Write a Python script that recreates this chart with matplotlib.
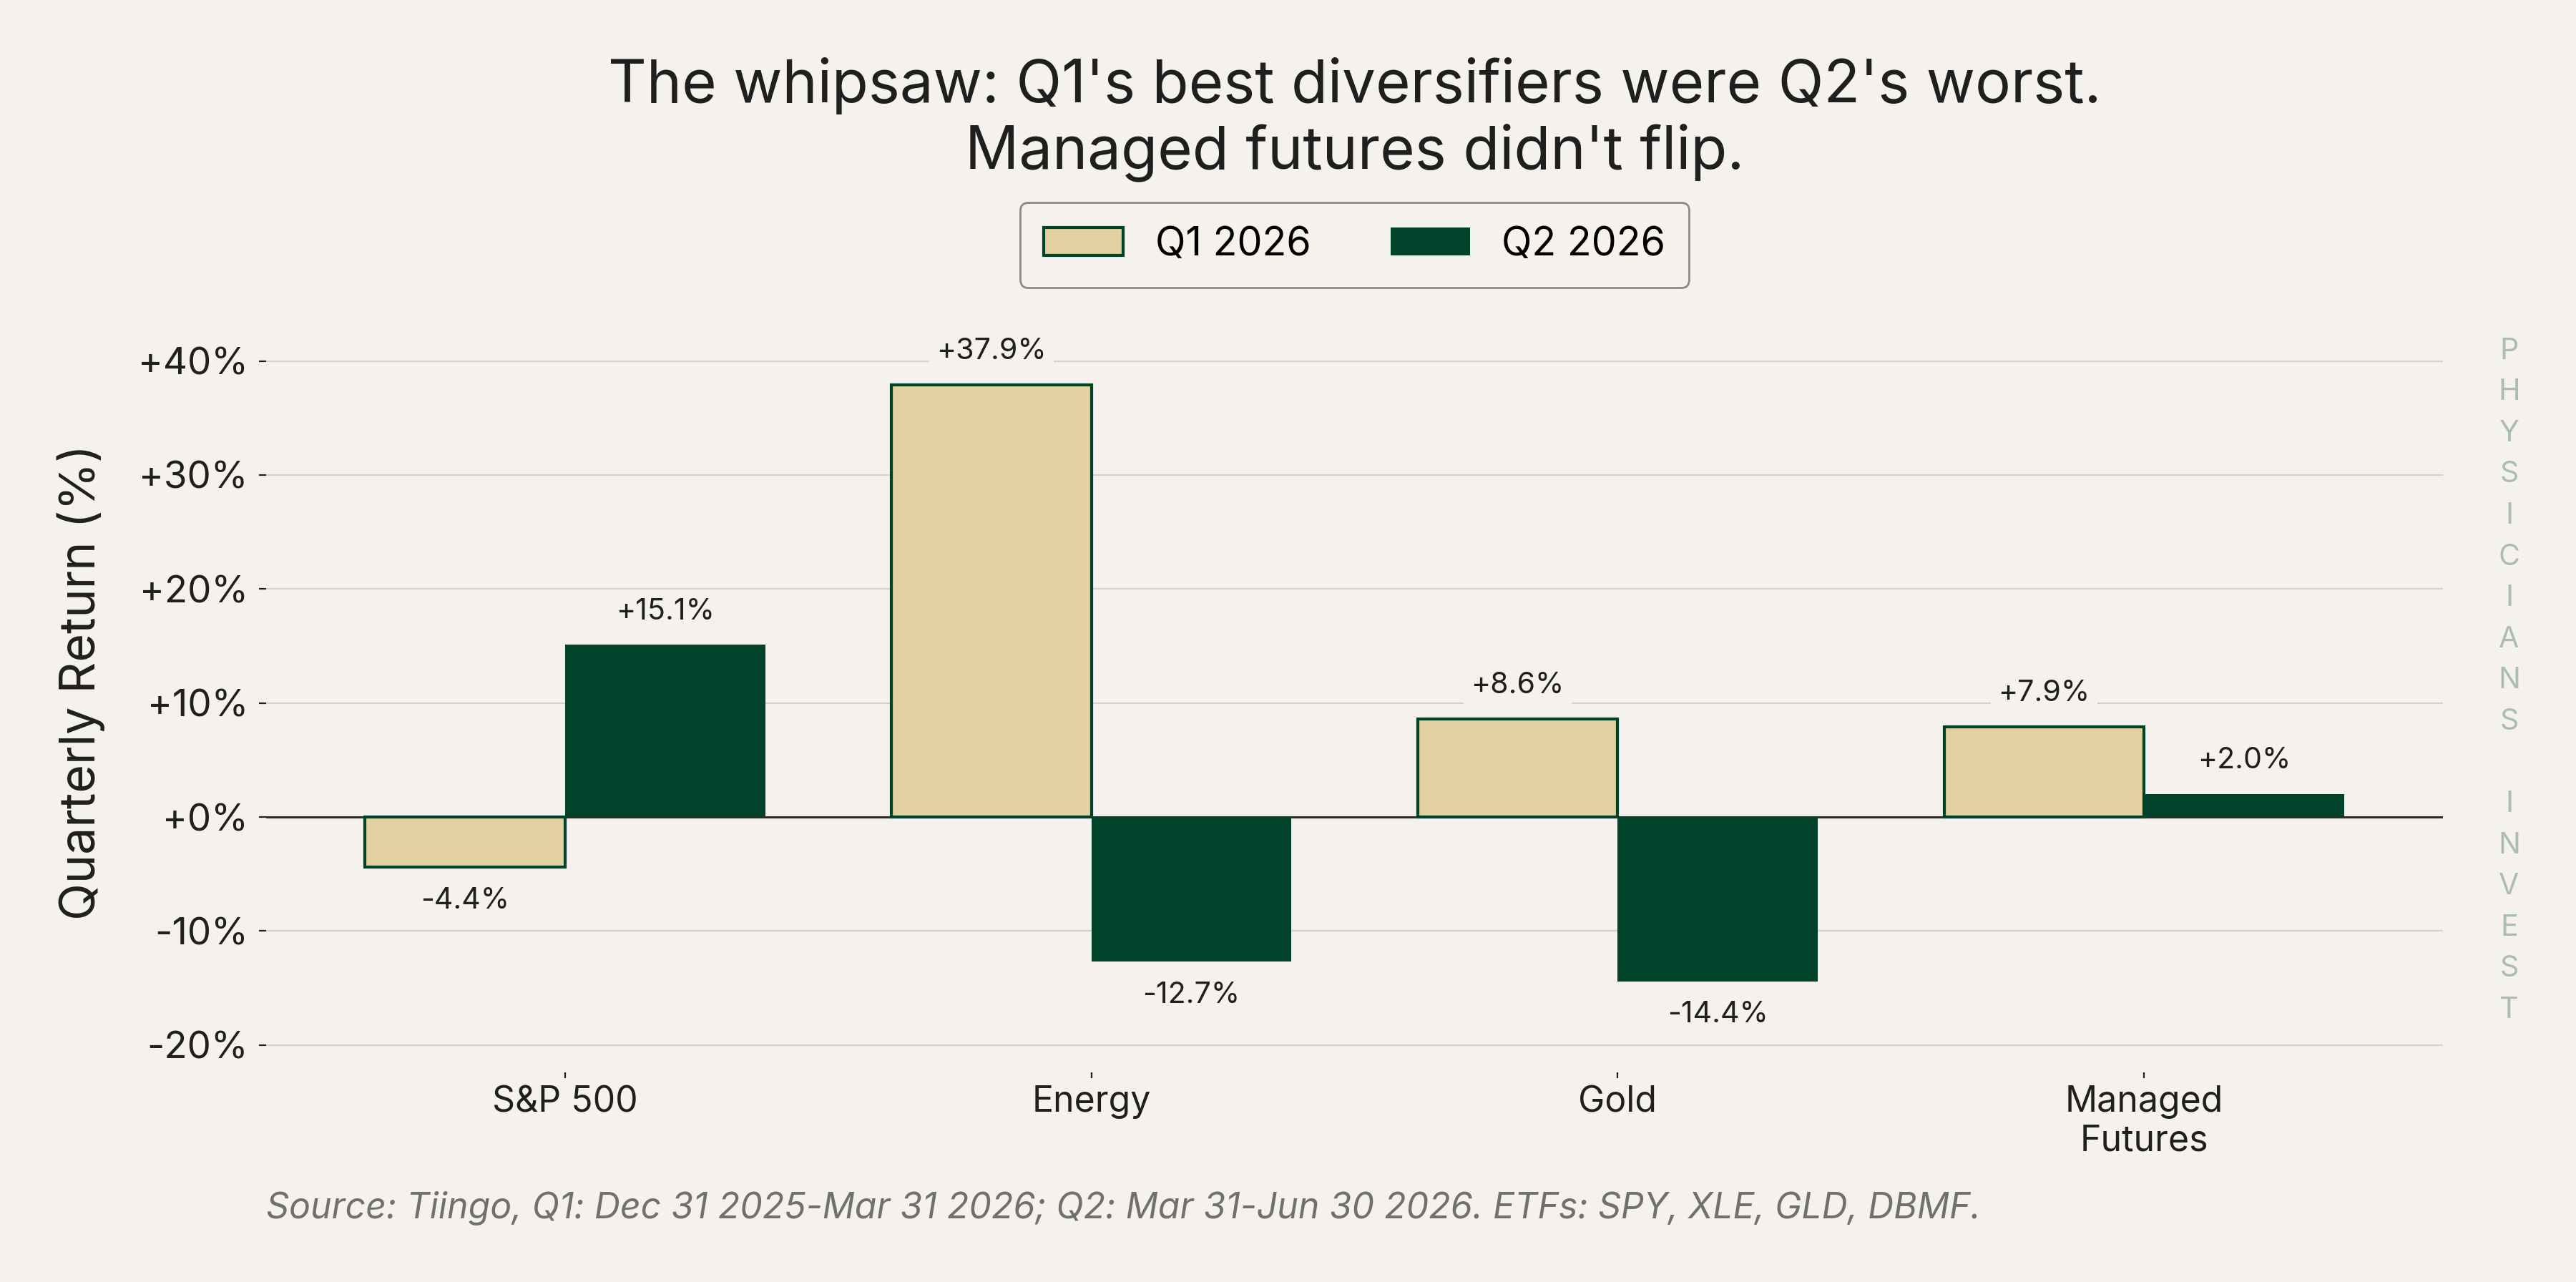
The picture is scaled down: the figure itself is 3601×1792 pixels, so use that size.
import numpy as np
import matplotlib.pyplot as plt
from matplotlib.ticker import FuncFormatter

# chart data
categories = ["S&P 500", "Energy", "Gold", "Managed\nFutures"]
q1_returns = [-4.4, 37.9, 8.6, 7.9]
q2_returns = [15.1, -12.7, -14.4, 2.0]
series_labels = ["Q1 2026", "Q2 2026"]
y_ticks = [-20, -10, 0, 10, 20, 30, 40]

title = "The whipsaw: Q1's best diversifiers were Q2's worst.\nManaged futures didn't flip."
source = "Source: Tiingo, Q1: Dec 31 2025-Mar 31 2026; Q2: Mar 31-Jun 30 2026. ETFs: SPY, XLE, GLD, DBMF."
watermark = "PHYSICIANS INVEST"

BG = "#f5f2ed"
GREEN = "#00422a"
SAND = "#e3d1a2"
INK = "#1f1f1f"

plt.rcParams['font.family'] = ['Inter', 'DejaVu Sans']

W, H = 3601, 1792
fig = plt.figure(figsize=(W / 200, H / 200), dpi=200, facecolor=BG)
ax = fig.add_axes([0.1033, 0.1635, 0.8451, 0.6083])
ax.set_facecolor(BG)

x = np.arange(len(categories))
width = 0.38
bars1 = ax.bar(x - width / 2, q1_returns, width, color=SAND, edgecolor=GREEN,
               linewidth=1.5, label=series_labels[0], zorder=3)
bars2 = ax.bar(x + width / 2, q2_returns, width, color=GREEN, edgecolor=GREEN,
               linewidth=0, label=series_labels[1], zorder=3)

ax.set_ylim(-22.4, 46)
ax.set_yticks(y_ticks)
ax.yaxis.set_major_formatter(FuncFormatter(lambda v, p: f"{v:+.0f}%"))
ax.set_xticks(x)
ax.set_xticklabels(categories)

ax.yaxis.grid(True, color="#d4d2cd", linewidth=0.8)
ax.set_axisbelow(True)
ax.axhline(0, color="#2b2b2b", linewidth=1.1, zorder=2)

for s in ax.spines.values():
    s.set_visible(False)
ax.tick_params(axis="y", length=3.5, width=0.8, color=INK, labelsize=19,
               labelcolor=INK, pad=5.5)
ax.tick_params(axis="x", length=3, width=0.8, color=INK, labelsize=18,
               labelcolor=INK)

# value labels
for bars in (bars1, bars2):
    for b in bars:
        v = b.get_height()
        xc = b.get_x() + b.get_width() / 2
        ax.annotate(f"{v:+.1f}%", xy=(xc, v), xytext=(0, 10 if v >= 0 else -10),
                    textcoords="offset points", ha="center",
                    va="bottom" if v >= 0 else "top", fontsize=14.8, color=INK,
                    bbox=dict(boxstyle="square,pad=0.25", fc=BG, ec="none"),
                    zorder=4)

ax.set_ylabel("Quarterly Return (%)", fontsize=24.5, color=INK)
ax.yaxis.set_label_coords(-0.074, 0.5)

ax.legend(loc="upper center", bbox_to_anchor=(0.5, 1.1156), ncol=2, fontsize=20,
          frameon=True, facecolor=BG, edgecolor="#8a8a8a", framealpha=1,
          borderaxespad=0, borderpad=0.6)

fig.text(0.52585, 1 - 79.5 / H, title, ha="center", va="top", fontsize=30,
         color=INK)
fig.text(0.1033, 1 - 1702.7 / H, source, ha="left", va="baseline", fontsize=18,
         style="italic", color="#707070")

# vertical watermark, one letter per line
for i, ch in enumerate(watermark):
    if ch != " ":
        fig.text(3507.5 / W, 1 - (501.7 + i * 57.57) / H, ch, ha="center",
                 va="baseline", fontsize=14.8, color="#abbdae")

fig.savefig("out.png", dpi=200, facecolor=BG)
